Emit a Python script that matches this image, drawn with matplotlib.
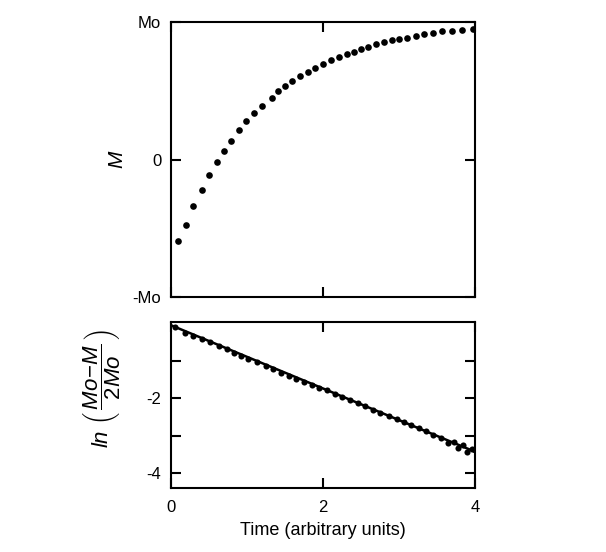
import matplotlib
matplotlib.use("Agg")
import matplotlib.pyplot as plt

plt.rcParams['font.family'] = ['Liberation Sans', 'DejaVu Sans']
plt.rcParams['mathtext.fontset'] = 'custom'
plt.rcParams['mathtext.it'] = 'Liberation Sans:italic'
plt.rcParams['mathtext.rm'] = 'Liberation Sans'

# Top panel: magnetization recovery (units of Mo)
t_top = [0.097, 0.193, 0.294, 0.409, 0.501, 0.607, 0.695, 0.791, 0.892, 0.989,
         1.095, 1.196, 1.332, 1.407, 1.499, 1.596, 1.697, 1.798, 1.899, 2.000,
         2.105, 2.215, 2.316, 2.404, 2.497, 2.598, 2.699, 2.800, 2.901, 3.002,
         3.108, 3.222, 3.332, 3.442, 3.560, 3.701, 3.829, 3.969]
M_top = [-0.593, -0.478, -0.337, -0.222, -0.110, -0.020, 0.059, 0.134, 0.212, 0.283,
         0.339, 0.393, 0.449, 0.498, 0.534, 0.573, 0.607, 0.639, 0.668, 0.698,
         0.722, 0.746, 0.766, 0.783, 0.802, 0.822, 0.839, 0.854, 0.868, 0.878,
         0.885, 0.902, 0.915, 0.922, 0.932, 0.937, 0.946, 0.951]

# Bottom panel: ln((Mo-M)/2Mo)
t_bot = [0.053, 0.185, 0.286, 0.404, 0.514, 0.633, 0.734, 0.831, 0.923, 1.020,
         1.130, 1.244, 1.349, 1.451, 1.552, 1.648, 1.754, 1.851, 1.952, 2.053,
         2.154, 2.255, 2.356, 2.457, 2.558, 2.659, 2.756, 2.870, 2.967, 3.064,
         3.160, 3.262, 3.358, 3.451, 3.556, 3.644, 3.723, 3.776, 3.837, 3.890,
         3.960, 4.000]
ln_bot = [-0.088, -0.239, -0.319, -0.416, -0.496, -0.602, -0.690, -0.796, -0.867, -0.956,
          -1.035, -1.124, -1.221, -1.310, -1.389, -1.478, -1.549, -1.637, -1.726, -1.788,
          -1.876, -1.965, -2.044, -2.133, -2.212, -2.310, -2.389, -2.478, -2.549, -2.646,
          -2.726, -2.805, -2.885, -2.973, -3.062, -3.186, -3.168, -3.336, -3.248, -3.425,
          -3.345, -3.381]
fit_t = [0.0, 4.0]
fit_ln = [-0.04, -3.43]

top_yticks = [-1, 0, 1]
top_ylabels = ['-Mo', '0', 'Mo']
bot_yticks = [-4, -2]
bot_yminor = [-3, -1]
bot_ylabels = ['-4', '-2']
xticks = [0, 2, 4]
xlabels = ['0', '2', '4']

fig = plt.figure(figsize=(6.06, 5.52), dpi=100)
ax1 = fig.add_axes([0.282, 0.462, 0.502, 0.498])
ax2 = fig.add_axes([0.282, 0.116, 0.502, 0.301])

fs = 12
for ax in (ax1, ax2):
    for s in ax.spines.values():
        s.set_linewidth(1.5)
    ax.tick_params(which='both', direction='in', top=True, right=True,
                   width=1.5, labelsize=fs, pad=7)
    ax.tick_params(which='major', length=7)
    ax.tick_params(which='minor', length=7)
    ax.set_xlim(0, 4)
    ax.set_xticks(xticks)

ax1.plot(t_top, M_top, 'o', color='black', markersize=4.8, markeredgewidth=0)
ax1.set_ylim(-1, 1)
ax1.set_yticks(top_yticks)
ax1.set_yticklabels(top_ylabels)
ax1.set_xticklabels([])
ax1.set_ylabel('$M$', fontsize=fs + 3, labelpad=4)

ax2.plot(fit_t, fit_ln, '-', color='black', linewidth=1.8)
ax2.plot(t_bot, ln_bot, 'o', color='black', markersize=4.4, markeredgewidth=0)
ax2.set_ylim(-4.4, 0.05)
ax2.set_yticks(bot_yticks)
ax2.set_yticklabels(bot_ylabels)
ax2.set_yticks(bot_yminor, minor=True)
ax2.tick_params(axis='x', pad=9)
ax2.set_xticklabels(xlabels)
ax2.set_ylabel(r'$ln\ \left(\,\dfrac{Mo\!-\!M}{2Mo}\,\right)$', fontsize=fs + 4)
ax2.yaxis.set_label_coords(-0.16, 0.6)
ax2.set_xlabel('Time (arbitrary units)', fontsize=fs + 1, labelpad=5)

fig.savefig('out.png', dpi=100, facecolor='white')
